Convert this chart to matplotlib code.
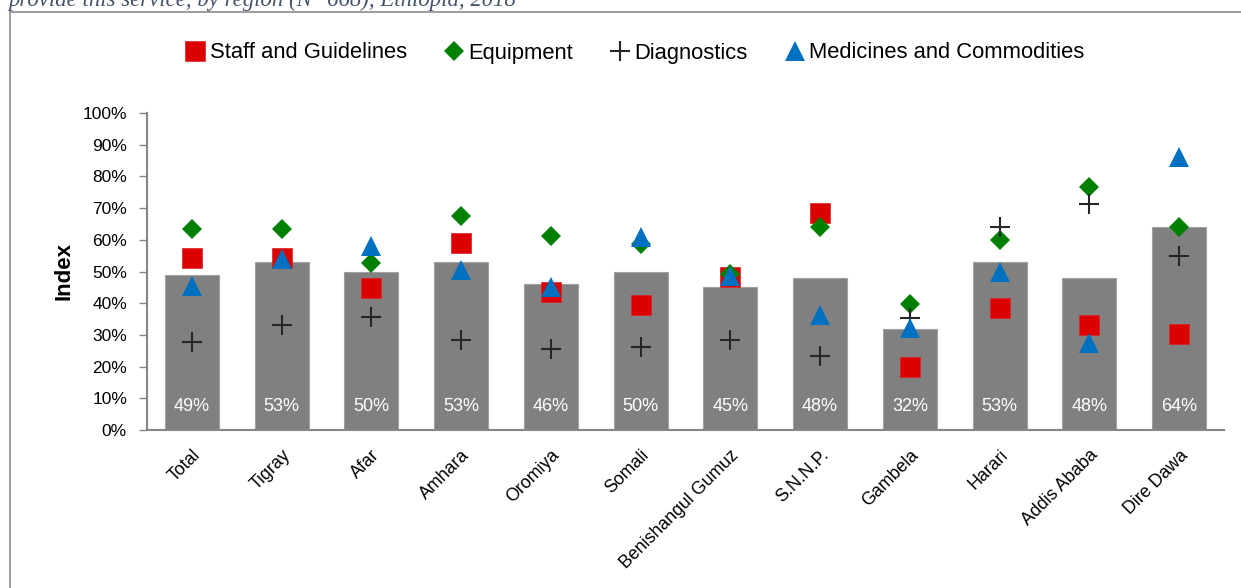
import matplotlib
matplotlib.use("Agg")
import matplotlib.pyplot as plt
from matplotlib.ticker import PercentFormatter, MultipleLocator
from matplotlib.patches import Rectangle
import numpy as np

regions = ["Total", "Tigray", "Afar", "Amhara", "Oromiya", "Somali",
           "Benishangul Gumuz", "S.N.N.P.", "Gambela", "Harari",
           "Addis Ababa", "Dire Dawa"]
index_values = [49, 53, 50, 53, 46, 50, 45, 48, 32, 53, 48, 64]
staff = [54.3, 54.2, 44.8, 59.1, 43.4, 39.3, 48.4, 68.6, 19.8, 38.6, 33.1, 30.2]
equipment = [63.3, 63.5, 52.6, 67.5, 61.2, 58.7, 49.2, 63.9, 39.9, 59.9, 76.6, 64.1]
diagnostics = [27.7, 33.1, 35.8, 28.4, 25.4, 26.1, 28.4, 23.4, 35.4, 64.1, 71.3, 55.0]
medicines = [45.3, 53.8, 57.9, 50.4, 45.2, 61.0, 48.7, 36.3, 32.2, 49.9, 27.3, 86.0]

plt.rcParams['font.family'] = ['Liberation Sans', 'DejaVu Sans']

fig = plt.figure(figsize=(12.41, 5.88), dpi=100)
ax = fig.add_axes([147/1241, 1-430/588, (1224-147)/1241, (430-113)/588])

x = np.arange(len(regions))
ax.bar(x, index_values, width=0.6, color="#808080", edgecolor="#A0A0A0",
       linewidth=0.8, zorder=2)
for xi, v in zip(x, index_values):
    ax.text(xi, 7.5, f"{v}%", color="white", ha="center", va="center",
            fontsize=13, zorder=3)

ax.plot(x, staff, linestyle="none", marker="s", ms=14.4, color="#DD0000",
        mec="#E02020", mew=0.5, zorder=4, label="Staff and Guidelines")
ax.plot(x, equipment, linestyle="none", marker="D", ms=10.2, color="#008000",
        mew=0, zorder=5, label="Equipment")
ax.plot(x, diagnostics, linestyle="none", marker="+", ms=14.5, color="#262626",
        mew=1.5, zorder=6, label="Diagnostics")
ax.plot(x, medicines, linestyle="none", marker="^", ms=14.4, color="#0070C0",
        mew=0, zorder=7, label="Medicines and Commodities")

ax.set_xlim(-0.5, len(regions) - 0.5)
ax.set_ylim(0, 100)
ax.yaxis.set_major_locator(MultipleLocator(10))
ax.yaxis.set_major_formatter(PercentFormatter(decimals=0))
ax.set_xticks(x)
ax.set_xticklabels(regions, rotation=45, ha="right", va="top",
                   rotation_mode="anchor", fontsize=12.8)
ax.tick_params(axis="x", length=0, pad=12)
ax.tick_params(axis="y", length=5.8, width=1, color="#868686", labelsize=12.5, pad=8.6)
for s in ["top", "right"]:
    ax.spines[s].set_visible(False)
for s in ["left", "bottom"]:
    ax.spines[s].set_color("#868686")
    ax.spines[s].set_linewidth(1.5)
ax.set_ylabel("Index", fontsize=16, fontweight="bold", labelpad=6)

fig.legend(loc="center", bbox_to_anchor=(636/1241, 1-53/588), ncol=4,
           frameon=False, fontsize=15.8, handlelength=0.7, handletextpad=0.3,
           columnspacing=1.8, markerscale=1.0)

fig.patches.append(Rectangle((10/1241, -0.1), 1.1, 1 - 12/588 + 0.1,
                             transform=fig.transFigure, fill=False,
                             edgecolor="#8C8C8C", linewidth=1.2))
fig.text(8/1241, 1-6/588, "provide this service, by region (N=668), Ethiopia, 2018",
         family=["Liberation Serif", "DejaVu Serif"], style="italic",
         fontsize=16.4, color="#44546A", ha="left", va="baseline")

fig.savefig("out.png", dpi=100)
